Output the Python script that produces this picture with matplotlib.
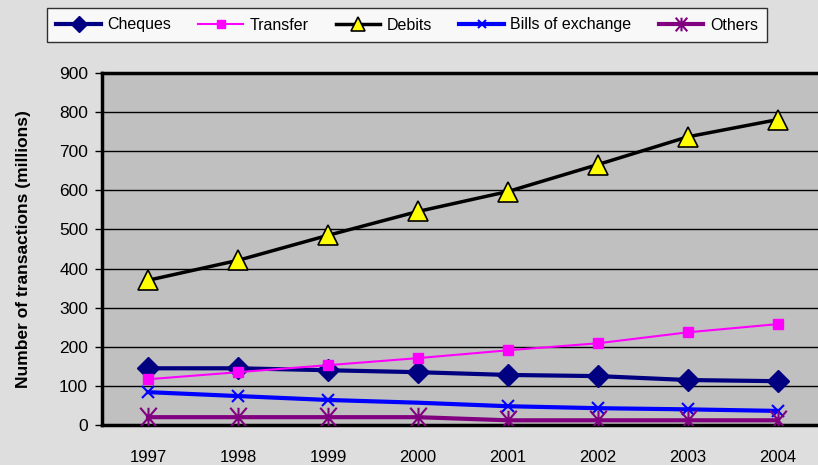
import matplotlib
matplotlib.use("Agg")
import matplotlib.pyplot as plt
from matplotlib.path import Path
import numpy as np

plt.rcParams['font.family'] = ['Liberation Sans', 'DejaVu Sans']

years = ['1997', '1998', '1999', '2000', '2001', '2002', '2003', '2004']
cheques = [145, 145, 140, 135, 128, 125, 115, 112]
transfer = [117, 135, 153, 171, 191, 209, 237, 258]
debits = [370, 421, 485, 546, 597, 666, 737, 781]
bills = [84, 74, 64, 57, 48, 43, 40, 36]
others = [20, 20, 20, 20, 12, 12, 12, 12]

x = np.arange(len(years))

# excel-style star: an X with a vertical bar through it
star = Path([(0, -1), (0, 1), (-0.85, -1), (0.85, 1), (-0.85, 1), (0.85, -1)],
            [Path.MOVETO, Path.LINETO, Path.MOVETO, Path.LINETO, Path.MOVETO, Path.LINETO])

fig = plt.figure(figsize=(8.18, 4.65), dpi=100)
fig.patch.set_facecolor('#dedede')
ax = fig.add_axes([102/818, 40/465, (818-102)/818, (425-73)/465])
ax.set_facecolor('#c0c0c0')

# gridlines
ax.set_ylim(0, 900)
ax.set_yticks(range(0, 901, 100))
ax.yaxis.grid(True, color='black', lw=1)
ax.set_axisbelow(True)

l1, = ax.plot(x, cheques, color='#000080', lw=3, marker='D', ms=11,
              mfc='#000080', mec='#000080', label='Cheques', zorder=4)
l2, = ax.plot(x, transfer, color='#ff00ff', lw=1.5, marker='s', ms=7.5,
              mfc='#ff00ff', mec='#ff00ff', label='Transfer', zorder=5)
l3, = ax.plot(x, debits, color='black', lw=2.5, marker='^', ms=15,
              mfc='#ffff00', mec='black', mew=1.2, label='Debits', zorder=4)
l4, = ax.plot(x, bills, color='#0000ff', lw=3, marker='x', ms=8, mew=1.5,
              markevery=[0, 1, 2, 4, 5, 6, 7], label='Bills of exchange', zorder=4)
l5, = ax.plot(x, others, color='#800080', lw=3, marker=star, ms=14, mew=1.5,
              mfc='none', label='Others', zorder=4)

ax.set_xlim(-46/90, (818-148)/90)
ax.set_xticks(x)
ax.set_xticklabels(years, fontsize=12)
ax.tick_params(axis='x', length=0, pad=18)
ax.tick_params(axis='y', length=5, width=1, labelsize=12.5, pad=5)

for s in ['left', 'bottom', 'top']:
    ax.spines[s].set_linewidth(2.5)
    ax.spines[s].set_color('black')
ax.spines['right'].set_visible(False)

ax.set_ylabel('Number of transactions (millions)', fontsize=12.5, fontweight='bold', labelpad=20)

leg = fig.legend(handles=[l1, l2, l3, l4, l5], loc='center',
                 bbox_to_anchor=(407/818, 1 - 25/465), ncol=5, frameon=True,
                 fancybox=False, edgecolor='black', fontsize=11.5,
                 handlelength=2.8, columnspacing=1.7, handletextpad=0.4,
                 borderpad=0.6, markerscale=0.7)
leg.get_frame().set_linewidth(1)
leg.get_frame().set_facecolor('white')

fig.savefig('out.png', dpi=100, facecolor=fig.get_facecolor())
